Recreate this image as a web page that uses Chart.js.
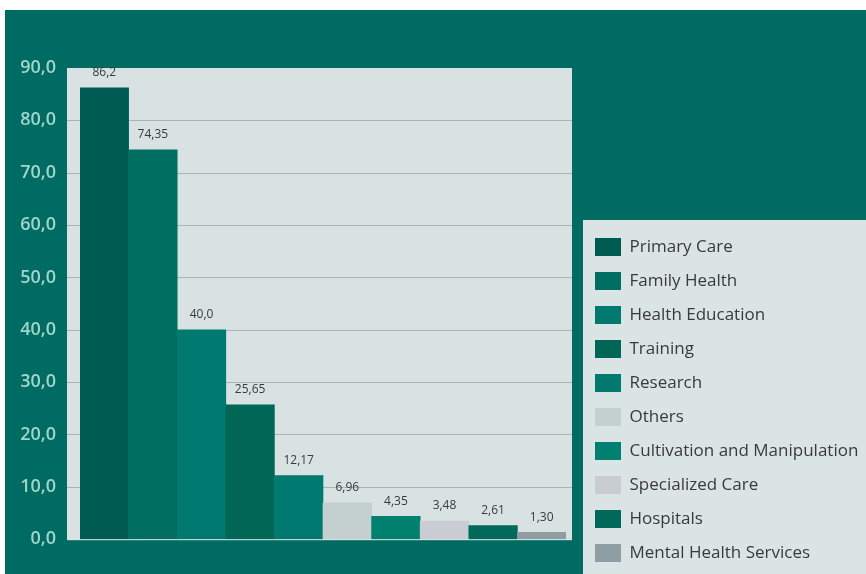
<!DOCTYPE html>
<html>
<head>
<meta charset="utf-8">
<script src="https://cdn.jsdelivr.net/npm/chart.js@4"></script>
<style>
  html, body { margin: 0; padding: 0; background: #ffffff; }
  canvas { display: block; }
</style>
</head>
<body>
<canvas id="chart" width="866" height="574"></canvas>
<script>
// Service areas and their shares
const categories = [
  'Primary Care', 'Family Health', 'Health Education', 'Training', 'Research',
  'Others', 'Cultivation and Manipulation', 'Specialized Care', 'Hospitals',
  'Mental Health Services'
];
const values = [86.2, 74.35, 40.0, 25.65, 12.17, 6.96, 4.35, 3.48, 2.61, 1.30];
const valueDecimals = [1, 2, 1, 2, 2, 2, 2, 2, 2, 2];
const yTicks = [0, 10, 20, 30, 40, 50, 60, 70, 80, 90];

const barColors = [
  '#005c52', '#006e60', '#007a70', '#006656', '#007a70',
  '#c4d0d0', '#00806f', '#c9cdd3', '#00695a', '#8e9ea4'
];

const TEAL = '#006b62';
const PANEL = '#d8e2e2';
const GRID = '#a9b4b4';

const fmt = (v, d) => v.toFixed(d).replace('.', ',');

// Page background, plot panel and legend panel
const backdrop = {
  id: 'backdrop',
  beforeDraw(chart) {
    const { ctx, chartArea: a } = chart;
    ctx.save();
    ctx.fillStyle = '#ffffff';
    ctx.fillRect(0, 0, chart.width, chart.height);
    ctx.fillStyle = TEAL;
    ctx.fillRect(5, 10, chart.width - 5, chart.height - 10);
    ctx.fillStyle = PANEL;
    ctx.fillRect(a.left - 13, a.top, (a.right + 6) - (a.left - 13), a.bottom - a.top + 1);
    const lg = chart.legend;
    ctx.fillStyle = '#dbe4e4';
    ctx.fillRect(lg.left + 4, 220, chart.width - lg.left - 4, chart.height - 220);
    ctx.restore();
  },
  beforeDatasetsDraw(chart) {
    const { ctx, chartArea: a, scales: { y } } = chart;
    ctx.save();
    ctx.strokeStyle = GRID;
    ctx.lineWidth = 1;
    yTicks.forEach(t => {
      if (t === 0 || t === 90) return;
      const py = Math.round(y.getPixelForValue(t)) + 0.5;
      ctx.beginPath();
      ctx.moveTo(a.left - 13, py);
      ctx.lineTo(a.right + 6, py);
      ctx.stroke();
    });
    ctx.restore();
  },
  afterDatasetsDraw(chart) {
    const { ctx } = chart;
    const meta = chart.getDatasetMeta(0);
    ctx.save();
    ctx.fillStyle = '#3a3a3a';
    ctx.font = '12px "Open Sans", sans-serif';
    ctx.textAlign = 'center';
    ctx.textBaseline = 'bottom';
    meta.data.forEach((bar, i) => {
      ctx.fillText(fmt(values[i], valueDecimals[i]), bar.x, bar.y - 9);
    });
    ctx.restore();
  }
};

new Chart(document.getElementById('chart'), {
  type: 'bar',
  data: {
    labels: categories,
    datasets: [{
      data: values,
      backgroundColor: barColors,
      borderWidth: 0,
      categoryPercentage: 1,
      barPercentage: 1
    }]
  },
  options: {
    responsive: false,
    animation: false,
    events: [],
    layout: { padding: { top: 68, left: 0, right: 0, bottom: -4 } },
    scales: {
      x: {
        display: true,
        grid: { display: false, drawTicks: false },
        border: { display: false },
        ticks: { display: false },
        afterFit(s) { s.height = 34; }
      },
      y: {
        min: 0, max: 90,
        afterBuildTicks(s) { s.ticks = yTicks.map(v => ({ value: v })); },
        grid: { display: false, drawTicks: false },
        border: { display: false },
        ticks: {
          padding: 24,
          color: '#9fd6cc',
          font: { family: '"Open Sans", sans-serif', size: 18, weight: '600' },
          callback: v => fmt(v, 1)
        },
        afterFit(s) { s.width = 80; }
      },
      yr: {
        type: 'linear',
        position: 'right',
        display: true,
        grid: { display: false, drawTicks: false },
        border: { display: false },
        ticks: { display: false },
        afterFit(s) { s.width = 13; }
      }
    },
    plugins: {
      tooltip: { enabled: false },
      legend: {
        display: true,
        position: 'right',
        align: 'end',
        maxWidth: 287,
        labels: {
          boxWidth: 26,
          boxHeight: 18,
          padding: 16,
          color: '#3a3a3a',
          font: { family: '"Open Sans", sans-serif', size: 17 },
          generateLabels: () => categories.map((c, i) => ({
            text: c,
            fillStyle: barColors[i],
            strokeStyle: barColors[i],
            lineWidth: 0,
            hidden: false,
            index: i,
            datasetIndex: 0,
            fontColor: '#3a3a3a'
          }))
        }
      }
    }
  },
  plugins: [backdrop]
});
</script>
</body>
</html>
